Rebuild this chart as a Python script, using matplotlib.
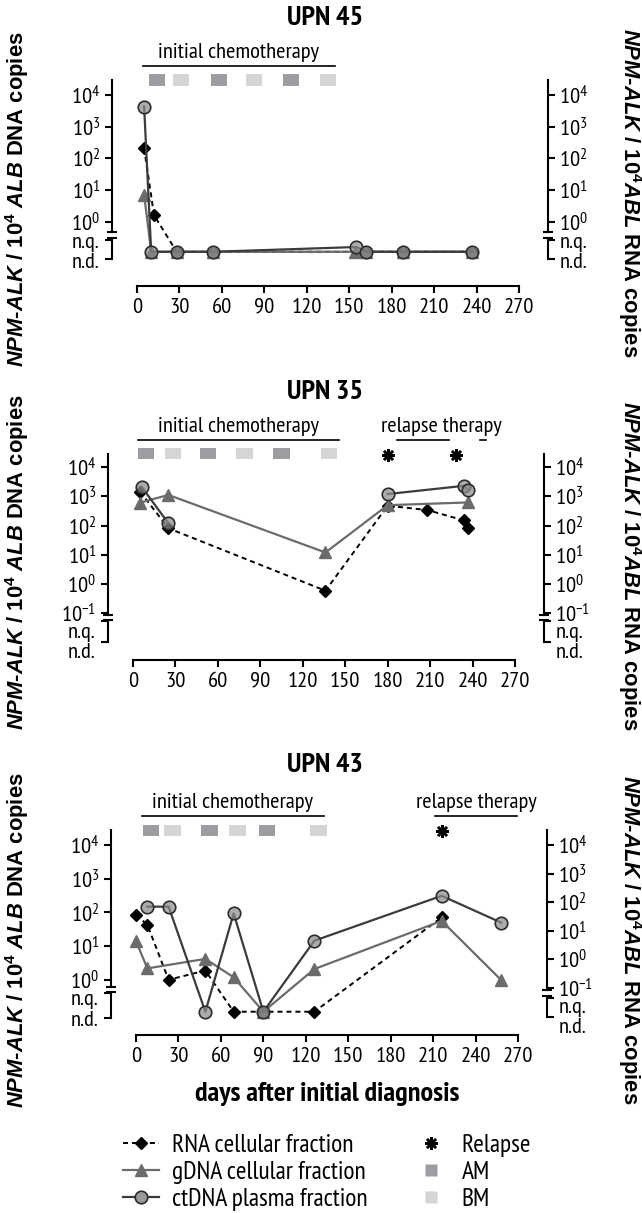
import matplotlib

matplotlib.use("Agg")
import matplotlib.pyplot as plt
import numpy as np
from matplotlib import font_manager, ticker, transforms
from matplotlib.lines import Line2D
from matplotlib.patches import Rectangle

W, H, DPI = 642, 1213, 100

# condensed sans with real regular + bold faces
_weights = {}
for f in font_manager.fontManager.ttflist:
    if f.style == "normal":
        _weights.setdefault(f.name, set()).add(f.weight)
_narrow_choices = ["Liberation Sans Narrow", "Arial Narrow", "PT Sans Narrow", "Archivo Narrow",
                   "Roboto Condensed", "Fira Sans Condensed", "IBM Plex Sans Condensed",
                   "Open Sans Condensed"]
NARROW = next((n for n in _narrow_choices
               if {400, 700} <= _weights.get(n, set())), "Liberation Sans")

plt.rcParams.update({
    "font.family": [NARROW, "DejaVu Sans"],
    "mathtext.fontset": "custom",
    "mathtext.default": "regular",
    "mathtext.it": "Liberation Sans:style=italic:weight=bold",
    "axes.linewidth": 1.5,
})

ND, NQ = "n.d.", "n.q."
nan = np.nan

# ---- data (days after diagnosis, copies) ----
# UPN 45
rna45_days = [5, 12, 28, 54, 162, 188, 237]
rna45 = [210, 1.6, ND, ND, ND, ND, ND]
gdna45_days = [5, 10, 28, 54, 154, 162, 188, 237]
gdna45 = [7, ND, ND, ND, ND, ND, ND, ND]
ct45_days = [5, 10, 28, 54, 155, 162, 188, 237]
ct45 = [4300, ND, ND, ND, NQ, ND, ND, ND]
am45 = [14, 58, 109]
bm45 = [31, 82.5, 135]
relapse45 = []
chemo45 = [(4, 140)]
reltx45 = []

# UPN 35
rna35_days = [5, 25, 136, 180, 208, 234, 237]
rna35 = [1450, 81, 0.59, 480, 340, 150, 85]
gdna35_days = [5, 25, 136, 180, 237]
gdna35 = [610, 1120, 12, 500, 620]
ct35_days = [6, 25, 136, 180, 234, 237]
ct35 = [2140, 120, nan, 1200, 2300, 1600]
am35 = [9.3, 53, 104.8]
bm35 = [28.1, 78.8, 138.4]
relapse35 = [180, 228]
chemo35 = [(3.8, 145.5)]
reltx35 = [(186.6, 223.6), (245, 249.7)]

# UPN 43
rna43_days = [0, 8, 23, 49, 69, 90, 126, 216]
rna43 = [36, 16, 0.19, 0.4, ND, ND, ND, 29]
gdna43_days = [0, 8, 49, 69, 90, 126, 216, 258]
gdna43 = [14, 2.2, 4.2, 1.2, ND, 2.1, 56, 1.0]
ct43_days = [8, 23, 49, 69, 90, 126, 216, 258]
ct43 = [148, 148, ND, 93, ND, 14.5, 310, 50]
am43 = [10.4, 52, 92.7]
bm43 = [25.7, 71.7, 129]
relapse43 = [216]
chemo43 = [(3.9, 132.8)]
reltx43 = [(211.3, 269.6)]

x_ticks = list(range(0, 271, 30))

# ---- layout (pixels) and axis-break geometry (log10 units) ----
brk45 = dict(caps=(-0.33, -0.52), bracket=(-0.58, -1.18), labels=(-0.66, -1.30), nd=-0.95, nq=-0.80)
brk35 = dict(caps=(-1.05, -1.24), bracket=(-1.28, -1.99), labels=(-1.66, -2.36), nd=-1.7, nq=-1.5)
brk43l = dict(caps=(-0.20, -0.36), bracket=(-0.39, -1.13), labels=(-0.57, -1.21), nd=-0.94, nq=-0.6)
brk43r = dict(caps=(-1.09, -1.30), bracket=(-1.37, -2.03), labels=(-1.69, -2.38), nd=-1.84, nq=-1.5)

panels = [
    dict(title="UPN 45", title_y=18, left=112, top=80, bottom=286, lab_y=(199, 193),
         dna_lim=(-2.03, 4.47), rna_lim=(-2.03, 4.47), dna_low=0, rna_low=0,
         dna_brk=brk45, rna_brk=brk45,
         rna=(rna45_days, rna45), gdna=(gdna45_days, gdna45), ct=(ct45_days, ct45),
         am=am45, bm=bm45, relapse=relapse45, chemo=chemo45, reltx=reltx45),
    dict(title="UPN 35", title_y=392, left=108, top=454, bottom=660, lab_y=(562, 566),
         dna_lim=(-2.6, 4.45), rna_lim=(-2.6, 4.45), dna_low=-1, rna_low=-1,
         dna_brk=brk35, rna_brk=brk35,
         rna=(rna35_days, rna35), gdna=(gdna35_days, gdna35), ct=(ct35_days, ct35),
         am=am35, bm=bm35, relapse=relapse35, chemo=chemo35, reltx=reltx35),
    dict(title="UPN 43", title_y=765, left=111, top=830, bottom=1035, lab_y=(940, 940),
         dna_lim=(-1.63, 4.44), rna_lim=(-2.656, 4.526), dna_low=0, rna_low=-1,
         dna_brk=brk43l, rna_brk=brk43r,
         rna=(rna43_days, rna43), gdna=(gdna43_days, gdna43), ct=(ct43_days, ct43),
         am=am43, bm=bm43, relapse=relapse43, chemo=chemo43, reltx=reltx43),
]
AX_W = 435.5
XLIM = (-17.7, 290.1)

C_GDNA = "#6b6b6b"
C_CT = "#3b3b3b"
C_AM = "#9c9ca1"
C_BM = "#d5d5d5"
CT_FACE = (0.55, 0.55, 0.55, 0.72)
LW = 1.5

fig = plt.figure(figsize=(W / DPI, H / DPI), dpi=DPI)
_renderer = fig.canvas.get_renderer()


def fit_size(text, target_px, **kw):
    t = fig.text(0, 0, text, fontsize=20, **kw)
    w = t.get_window_extent(_renderer).width
    t.remove()
    return 20 * target_px / w


FS = fit_size("initial chemotherapy", 160)
FS_LEG = fit_size("ctDNA plasma fraction", 196)
FS_B = fit_size("days after initial diagnosis", 264, fontweight="bold")
FS_LAB = fit_size("NPM-ALK / 104 ALB DNA copies", 336, fontweight="bold", family="Liberation Sans")


def levels(vals, brk):
    out = []
    for v in vals:
        if isinstance(v, str):
            out.append(10 ** (brk["nd"] if v == ND else brk["nq"]))
        else:
            out.append(v)
    return out


def decade_formatter(v, pos):
    return rf"$\mathdefault{{10^{{{int(round(np.log10(v)))}}}}}$"


def style_yaxis(ax, lim, low, brk, side):
    ax.set_yscale("log")
    ax.yaxis.set_major_locator(ticker.FixedLocator([10.0 ** k for k in range(low, 5)]))
    ax.yaxis.set_minor_locator(ticker.NullLocator())
    ax.yaxis.set_major_formatter(ticker.FuncFormatter(decade_formatter))
    ax.spines[side].set_bounds(10 ** brk["caps"][0], 10 ** lim[1])
    ax.tick_params(axis="y", direction="out", length=5, width=LW, pad=3.5, labelsize=FS)
    tr = ax.get_yaxis_transform()
    x = 0 if side == "left" else 1
    sgn = -1 if side == "left" else 1
    # break marks
    ax.plot([x, x], [10 ** c for c in brk["caps"]], transform=tr, ls="none", marker="_",
            ms=7.5, mew=LW, color="black", clip_on=False)
    # n.q. / n.d. bracket
    b0, b1 = brk["bracket"]
    ax.plot([x, x], [10 ** b0, 10 ** b1], transform=tr, color="black", lw=LW, clip_on=False)
    ax.plot([x, x], [10 ** b0, 10 ** b1], transform=tr, ls="none",
            marker=0 if side == "left" else 1, ms=5, mew=LW, color="black", clip_on=False)
    ttr = transforms.offset_copy(tr, fig=fig, x=sgn * 12.5, units="dots")
    for txt, lv in zip([NQ, ND], brk["labels"]):
        ax.text(x, 10 ** lv, txt, transform=ttr, fontsize=FS, va="center",
                ha="right" if side == "left" else "left")
    ax.set_ylim(10 ** lim[0], 10 ** lim[1])


for p in panels:
    h = p["bottom"] - p["top"]
    rect = [p["left"] / W, 1 - p["bottom"] / H, AX_W / W, h / H]
    ax = fig.add_axes(rect)      # RNA axis (right)
    ax2 = ax.twinx()             # DNA axis (left), drawn on top
    ax.yaxis.tick_right()
    ax2.yaxis.tick_left()
    for s in ["top", "left"]:
        ax.spines[s].set_visible(False)
    for s in ["top", "right", "bottom"]:
        ax2.spines[s].set_visible(False)

    ax.spines["bottom"].set_bounds(0, 270)
    ax.xaxis.set_major_locator(ticker.FixedLocator(x_ticks))
    ax.tick_params(axis="x", direction="out", length=5, width=LW, pad=3.5, labelsize=FS)

    style_yaxis(ax, p["rna_lim"], p["rna_low"], p["rna_brk"], "right")
    style_yaxis(ax2, p["dna_lim"], p["dna_low"], p["dna_brk"], "left")

    d, v = p["rna"]
    ax.plot(d, levels(v, p["rna_brk"]), color="black", ls=(0, (2.6, 2.0)), lw=1.4,
            marker="D", ms=6.2, clip_on=False)
    d, v = p["gdna"]
    ax2.plot(d, levels(v, p["dna_brk"]), color=C_GDNA, lw=1.6, marker="^", ms=8,
             clip_on=False)
    d, v = p["ct"]
    ax2.plot(d, levels(v, p["dna_brk"]), color=C_CT, lw=1.6, marker="o", ms=9,
             mfc=CT_FACE, mec="#2c2c2c", mew=1.2, clip_on=False)

    # therapy annotations above the plot
    bt = transforms.blended_transform_factory(ax2.transData, ax2.transAxes)

    def up(dy, bt=bt):
        return bt + transforms.ScaledTranslation(0, dy / DPI, fig.dpi_scale_trans)

    for label, spans in [("initial chemotherapy", p["chemo"]), ("relapse therapy", p["reltx"])]:
        if not spans:
            continue
        for s0, s1 in spans:
            ax2.plot([s0, s1], [1, 1], transform=up(14), color="black", lw=1.2, clip_on=False)
        mid = (spans[0][0] + spans[-1][1]) / 2
        ax2.text(mid, 1, label, transform=up(27), ha="center", va="center", fontsize=FS)
    sq_h = 11 / h
    for days, col in [(p["am"], C_AM), (p["bm"], C_BM)]:
        for dd in days:
            ax2.add_patch(Rectangle((dd - 5.8, 1 - sq_h / 2), 11.6, sq_h, transform=bt,
                                    facecolor=col, edgecolor="none", clip_on=False))
    if p["relapse"]:
        ax2.plot(p["relapse"], [1] * len(p["relapse"]), transform=up(-1), ls="none",
                 marker=(8, 2, 0), ms=9, mew=1.8, color="black", clip_on=False)

    ax.set_xlim(*XLIM)
    ax2.set_xlim(*XLIM)

    fig.text(325 / W, 1 - p["title_y"] / H, p["title"], ha="center", va="center",
             fontsize=FS_B, fontweight="bold")
    fig.text(17 / W, 1 - p["lab_y"][0] / H,
             r"$\mathit{NPM}$-$\mathit{ALK}$ / 10$^4$ $\mathit{ALB}$ DNA copies",
             rotation=90, ha="center", va="center", fontsize=FS_LAB, fontweight="bold",
             family="Liberation Sans")
    fig.text(630 / W, 1 - p["lab_y"][1] / H,
             r"$\mathit{NPM}$-$\mathit{ALK}$ / 10$^4$$\mathit{ABL}$ RNA copies",
             rotation=-90, ha="center", va="center", fontsize=FS_LAB, fontweight="bold",
             family="Liberation Sans")

fig.text(327.5 / W, 1 - 1094 / H, "days after initial diagnosis", ha="center", va="center",
         fontsize=FS_B, fontweight="bold")

handles1 = [
    Line2D([], [], color="black", ls=(0, (2.6, 2.0)), lw=1.4, marker="D", ms=6.2),
    Line2D([], [], color=C_GDNA, lw=1.6, marker="^", ms=8),
    Line2D([], [], color=C_CT, lw=1.6, marker="o", ms=9, mfc=(0.6, 0.6, 0.6), mec="#2c2c2c", mew=1.2),
]
labels1 = ["RNA cellular fraction", "gDNA cellular fraction", "ctDNA plasma fraction"]
handles2 = [
    Line2D([], [], ls="none", marker=(8, 2, 0), ms=9, mew=1.8, color="black"),
    Line2D([], [], ls="none", marker="s", ms=8, mfc=C_AM, mec="none"),
    Line2D([], [], ls="none", marker="s", ms=8, mfc=C_BM, mec="none"),
]
labels2 = ["Relapse", "AM", "BM"]
common = dict(loc="upper left", frameon=False, fontsize=FS_LEG, handlelength=1.4,
              handletextpad=0.5, borderpad=0, borderaxespad=0, labelspacing=0.15)
fig.legend(handles1, labels1, bbox_to_anchor=(123 / W, 1 - 1134 / H), **common)
fig.legend(handles2, labels2, bbox_to_anchor=(413 / W, 1 - 1134 / H), **common)

fig.savefig("out.png", dpi=DPI)
